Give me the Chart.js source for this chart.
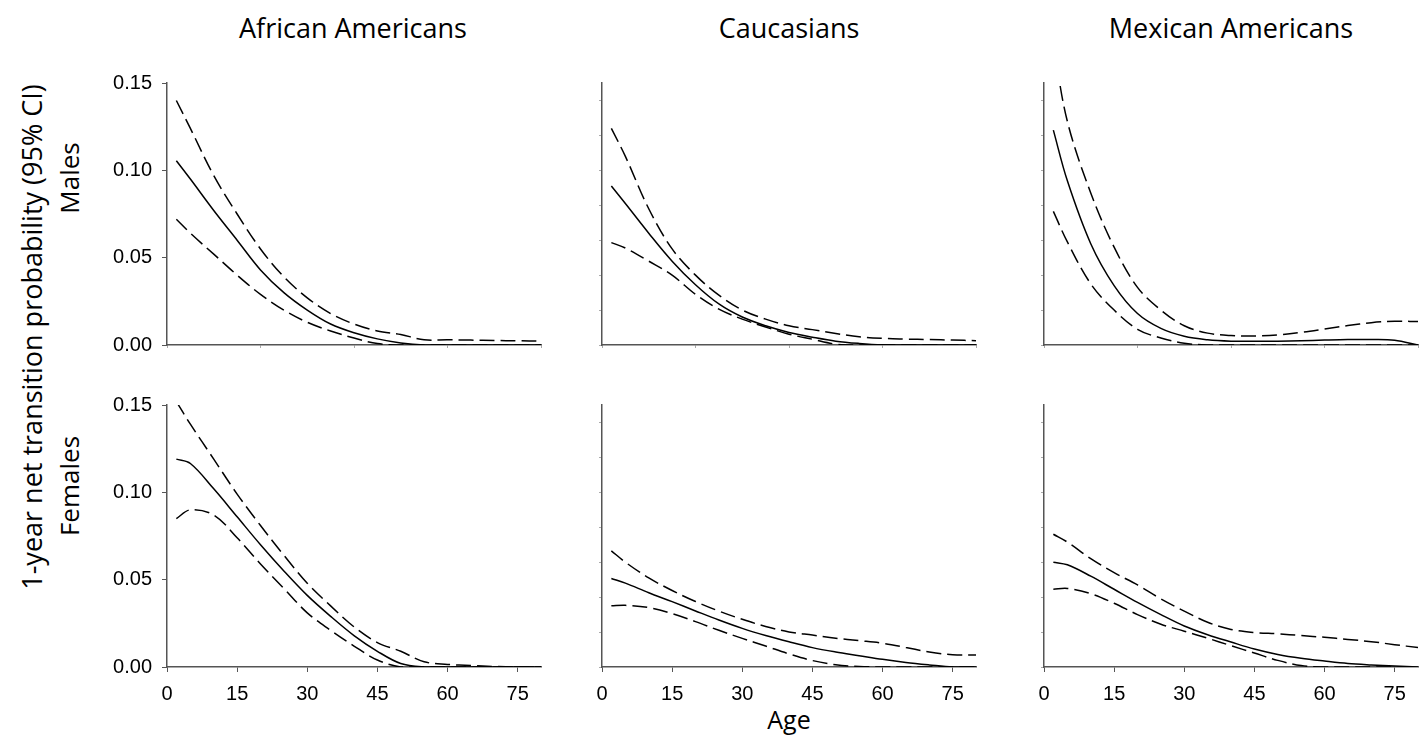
<!DOCTYPE html>
<html>
<head>
<meta charset="utf-8">
<script src="https://cdn.jsdelivr.net/npm/chart.js@4.4.1/dist/chart.umd.min.js"></script>
<style>
  html, body { margin: 0; padding: 0; background: #fff; }
  body { width: 1426px; height: 738px; position: relative; overflow: hidden; font-family: "Open Sans", sans-serif; color: #000; }
  canvas.panel { position: absolute; }
  .lbl { position: absolute; white-space: nowrap; font-size: 27px; line-height: 1; transform: translate(-50%, -50%); }
  .rot { transform: translate(-50%, -50%) rotate(-90deg); }
</style>
</head>
<body>

<div class="lbl" style="left:353px;top:27px;">African Americans</div>
<div class="lbl" style="left:789px;top:27px;">Caucasians</div>
<div class="lbl" style="left:1231px;top:27px;">Mexican Americans</div>
<div class="lbl rot" style="left:31px;top:337px;font-size:27px;">1-year net transition probability (95% CI)</div>
<div class="lbl rot" style="left:69px;top:178px;font-size:26px;">Males</div>
<div class="lbl rot" style="left:69px;top:486px;font-size:26px;">Females</div>
<div class="lbl" style="left:789px;top:719px;font-size:25px;">Age</div>

<script>
const AGES = [2, 5, 10, 15, 20, 25, 30, 35, 40, 45, 50, 55, 60, 65, 70, 75, 80];

const X_TICKS = [0, 15, 30, 45, 60, 75];
const X_TICKS_MINOR = [0, 20, 40, 60, 80];
const Y_TICKS = [0, 0.05, 0.10, 0.15];
const Y_TICKS_MINOR = [0, 0.02, 0.04, 0.06, 0.08, 0.10, 0.12, 0.14];

// African Americans, males
const aaMaleEst = [0.1055, 0.095, 0.077, 0.060, 0.043, 0.030, 0.020, 0.012, 0.007, 0.0035, 0.0012, 0, 0, 0, 0, 0, 0];
const aaMaleLo  = [0.072, 0.064, 0.052, 0.040, 0.029, 0.020, 0.013, 0.008, 0.004, 0.0008, 0, 0, 0, 0, 0, 0, 0];
const aaMaleHi  = [0.140, 0.124, 0.097, 0.075, 0.055, 0.039, 0.027, 0.018, 0.012, 0.008, 0.006, 0.003, 0.003, 0.0028, 0.0026, 0.0024, 0.0022];

// Caucasians, males
const caMaleEst = [0.091, 0.081, 0.064, 0.048, 0.0345, 0.0235, 0.016, 0.011, 0.0072, 0.0045, 0.0022, 0.0009, 0.0001, 0, 0, 0, 0];
const caMaleLo  = [0.0586, 0.0555, 0.048, 0.040, 0.029, 0.0205, 0.0148, 0.0103, 0.0062, 0.0033, 0.0005, 0, 0, 0, 0, 0, 0];
const caMaleHi  = [0.124, 0.108, 0.078, 0.055, 0.040, 0.0285, 0.020, 0.0148, 0.011, 0.0088, 0.0066, 0.0047, 0.0038, 0.0034, 0.0031, 0.0028, 0.0025];

// Mexican Americans, males
const maMaleEst = [0.123, 0.094, 0.058, 0.034, 0.018, 0.0095, 0.005, 0.003, 0.0022, 0.0021, 0.0022, 0.0024, 0.0028, 0.0031, 0.0031, 0.0027, 0];
const maMaleLo  = [0.0765, 0.059, 0.035, 0.020, 0.009, 0.004, 0.001, 0, 0, 0, 0, 0, 0, 0, 0, 0, 0];
const maMaleHi  = [0.172, 0.128, 0.087, 0.056, 0.033, 0.020, 0.011, 0.0068, 0.0054, 0.0052, 0.0058, 0.0072, 0.0091, 0.0111, 0.0128, 0.0136, 0.0134];

// African Americans, females
const aaFemEst = [0.119, 0.1165, 0.102, 0.086, 0.070, 0.055, 0.041, 0.029, 0.018, 0.009, 0.002, 0, 0, 0, 0, 0, 0];
const aaFemLo  = [0.085, 0.090, 0.087, 0.074, 0.059, 0.045, 0.031, 0.021, 0.012, 0.004, 0, 0, 0, 0, 0, 0, 0];
const aaFemHi  = [0.152, 0.139, 0.119, 0.099, 0.081, 0.064, 0.048, 0.035, 0.023, 0.014, 0.009, 0.003, 0.0015, 0.0008, 0.0003, 0, 0];

// Caucasians, females
const caFemEst = [0.0507, 0.048, 0.0425, 0.0374, 0.0321, 0.0269, 0.0221, 0.018, 0.0144, 0.0111, 0.0086, 0.0065, 0.0044, 0.0026, 0.0012, 0, 0];
const caFemLo  = [0.035, 0.0353, 0.034, 0.0306, 0.026, 0.021, 0.0164, 0.012, 0.0075, 0.0037, 0.0013, 0.0003, 0, 0, 0, 0, 0];
const caFemHi  = [0.0665, 0.060, 0.051, 0.0438, 0.0375, 0.032, 0.0273, 0.0232, 0.0201, 0.0183, 0.0165, 0.0151, 0.0136, 0.0112, 0.0086, 0.007, 0.0069];

// Mexican Americans, females
const maFemEst = [0.060, 0.0585, 0.052, 0.0445, 0.037, 0.030, 0.0235, 0.0185, 0.0143, 0.0103, 0.0072, 0.005, 0.0034, 0.002, 0.0012, 0.0006, 0];
const maFemLo  = [0.0445, 0.045, 0.042, 0.0365, 0.030, 0.0245, 0.0205, 0.0165, 0.0122, 0.008, 0.0038, 0.0008, 0, 0, 0, 0, 0];
const maFemHi  = [0.076, 0.0715, 0.062, 0.054, 0.047, 0.039, 0.032, 0.0256, 0.0215, 0.0197, 0.019, 0.018, 0.017, 0.0158, 0.0145, 0.0128, 0.0111];

// plot-area geometry (pixels)
const PLOT_LEFT = [167, 602, 1044];
const PLOT_TOP = [83, 405];
const PLOT_W = 374, PLOT_H = 262;
const M_LEFT = 80, M_RIGHT = 10, M_TOP = 12, M_BOTTOM = 45;

const TICK_FONT = { family: '"Liberation Sans", Arial, sans-serif', size: 20 };
const AXIS_COLOR = '#555';

function pts(arr) {
  return AGES.map((a, i) => ({ x: a, y: arr[i] }));
}

function line(arr, dashed) {
  return {
    data: pts(arr),
    borderColor: '#000',
    borderWidth: 1.5,
    borderDash: dashed ? [15, 6] : [],
    pointRadius: 0,
    tension: 0.35,
    fill: false,
  };
}

function makePanel(row, col, est, lo, hi) {
  const canvas = document.createElement('canvas');
  canvas.className = 'panel';
  canvas.width = M_LEFT + PLOT_W + M_RIGHT;
  canvas.height = M_TOP + PLOT_H + M_BOTTOM;
  canvas.style.left = (PLOT_LEFT[col] - M_LEFT) + 'px';
  canvas.style.top = (PLOT_TOP[row] - M_TOP) + 'px';
  document.body.appendChild(canvas);

  const bottomRow = row === 1;
  const firstCol = col === 0;

  new Chart(canvas, {
    type: 'line',
    data: { datasets: [line(hi, true), line(est, false), line(lo, true)] },
    options: {
      responsive: false,
      animation: false,
      devicePixelRatio: 1,
      layout: { padding: { top: M_TOP, right: M_RIGHT, left: 0, bottom: 0 } },
      plugins: { legend: { display: false }, tooltip: { enabled: false } },
      scales: {
        x: {
          type: 'linear', min: 0, max: 80,
          afterBuildTicks: s => { s.ticks = (bottomRow ? X_TICKS : X_TICKS_MINOR).map(v => ({ value: v })); },
          afterFit: s => { s.height = M_BOTTOM; s.paddingLeft = 0; s.paddingRight = 0; },
          ticks: { display: bottomRow, font: TICK_FONT, color: '#000', padding: 10, maxRotation: 0 },
          grid: { drawOnChartArea: false, drawTicks: true, tickLength: bottomRow ? 5 : 3, color: bottomRow ? AXIS_COLOR : '#aaa' },
          border: { display: true, color: AXIS_COLOR, width: 1.5 },
        },
        y: {
          min: 0, max: 0.15,
          afterBuildTicks: s => { s.ticks = (firstCol ? Y_TICKS : Y_TICKS_MINOR).map(v => ({ value: v })); },
          afterFit: s => { s.width = M_LEFT; s.paddingTop = 0; s.paddingBottom = 0; },
          ticks: { display: firstCol, font: TICK_FONT, color: '#000', padding: 10, callback: v => v.toFixed(2) },
          grid: { drawOnChartArea: false, drawTicks: true, tickLength: firstCol ? 5 : 3, color: firstCol ? AXIS_COLOR : '#aaa' },
          border: { display: true, color: AXIS_COLOR, width: 1.5 },
        },
      },
    },
  });
}

makePanel(0, 0, aaMaleEst, aaMaleLo, aaMaleHi);
makePanel(0, 1, caMaleEst, caMaleLo, caMaleHi);
makePanel(0, 2, maMaleEst, maMaleLo, maMaleHi);
makePanel(1, 0, aaFemEst, aaFemLo, aaFemHi);
makePanel(1, 1, caFemEst, caFemLo, caFemHi);
makePanel(1, 2, maFemEst, maFemLo, maFemHi);
</script>
</body>
</html>
